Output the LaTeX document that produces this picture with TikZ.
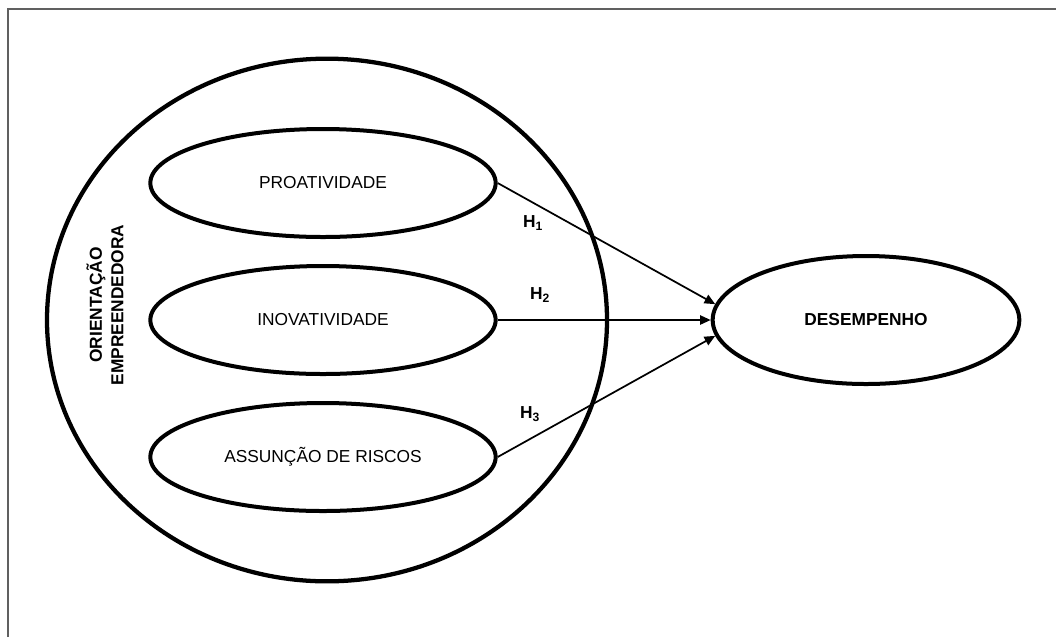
\documentclass[tikz,border=0pt]{standalone}
\usepackage{fontspec}
\setmainfont{Liberation Sans}
\usetikzlibrary{arrows.meta,shapes}
\definecolor{framegray}{RGB}{96,96,96}

\begin{document}
\begin{tikzpicture}[x=0.75pt,y=-0.75pt,
    dimbox/.style={draw, ellipse, line width=3pt, inner sep=0pt,
        minimum width=259pt, minimum height=81pt,
        font=\fontsize{13}{15}\selectfont},
    hyparrow/.style={-{Triangle[length=8pt,width=7pt]}, line width=1.3pt},
    hlabel/.style={font=\fontsize{13}{15}\selectfont\bfseries}]
            \useasboundingbox (0,0) rectangle (1056,637);

            % Frame
            \draw[framegray, line width=0.9pt] (8,637) -- (8,9) -- (1056,9);

            % Outer construct
            \node[draw, ellipse, line width=3.2pt, minimum width=420pt, minimum height=392pt] (oe) at (327,320) {};
            \node[rotate=90, align=center, font=\fontsize{13}{16}\selectfont\bfseries] (oelabel) at (105,305) {ORIENTAÇÃO\\EMPREENDEDORA};

            % Dimensions
            \node[dimbox] (pro) at (323,183) {PROATIVIDADE};
            \node[dimbox] (ino) at (323,320) {INOVATIVIDADE};
            \node[dimbox] (ris) at (323,457) {ASSUNÇÃO DE RISCOS};

            % Outcome
            \node[draw, ellipse, line width=3pt, inner sep=0pt, minimum width=230pt, minimum height=96pt,
                font=\fontsize{13}{15}\selectfont\bfseries] (des) at (866,320) {DESEMPENHO};

            % Hypotheses
            \draw[hyparrow] (pro.east) -- (des.174);
            \draw[hyparrow] (ino.east) -- (des.west);
            \draw[hyparrow] (ris.east) -- (des.186);

            \node[hlabel] (h1) at (533,223) {H\textsubscript{1}};
            \node[hlabel] (h2) at (540,295) {H\textsubscript{2}};
            \node[hlabel] (h3) at (530,414) {H\textsubscript{3}};
        \end{tikzpicture}
\end{document}
